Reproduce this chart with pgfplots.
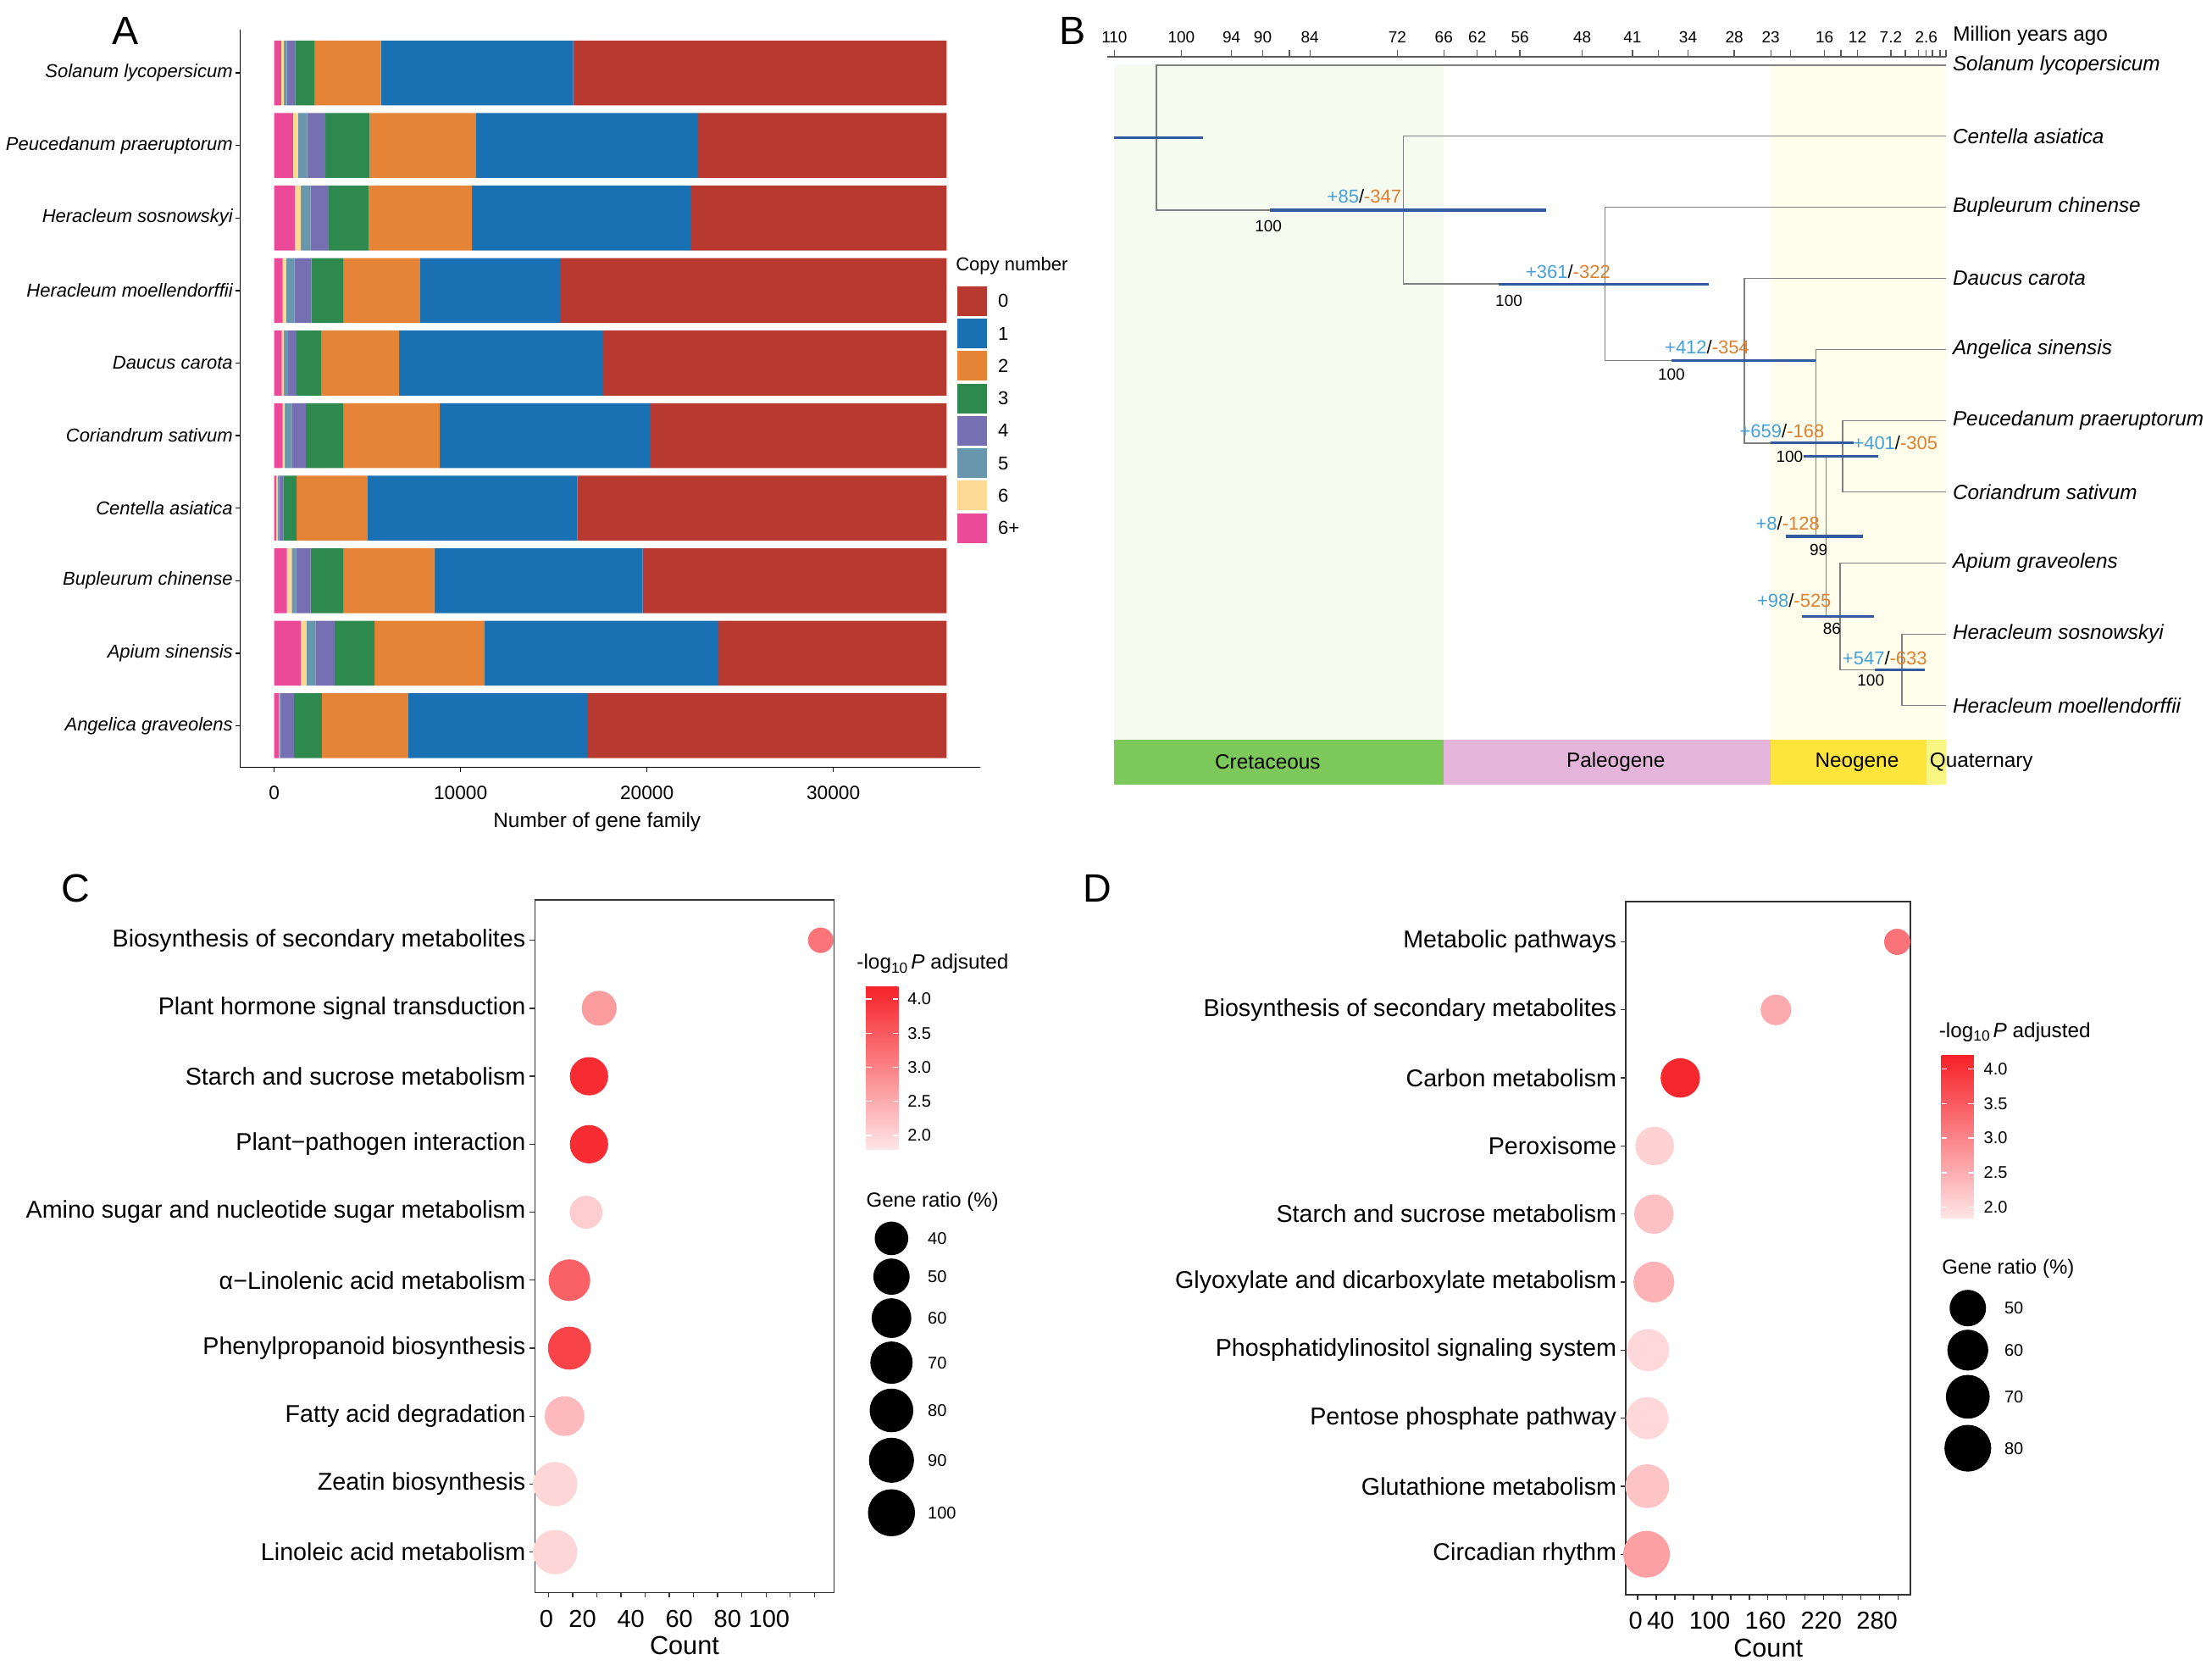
\documentclass[border=0pt]{standalone}
\usepackage{fontspec}
\setmainfont{Liberation Sans}
\usepackage{pgfplots}
\pgfplotsset{compat=1.18}
\newcommand{\fs}[1]{\fontsize{#1}{#1}\selectfont}
\definecolor{cz}{RGB}{183,57,48}
\definecolor{co}{RGB}{25,113,180}
\definecolor{ct}{RGB}{229,131,55}
\definecolor{cth}{RGB}{46,137,79}
\definecolor{cf}{RGB}{118,112,178}
\definecolor{cfi}{RGB}{104,150,172}
\definecolor{cs}{RGB}{252,218,150}
\definecolor{csp}{RGB}{235,74,152}
\definecolor{hpd}{RGB}{50,90,160}
\definecolor{gain}{RGB}{70,160,215}
\definecolor{loss}{RGB}{222,128,48}
\definecolor{treeg}{RGB}{128,128,128}
\definecolor{cret}{RGB}{125,200,90}
\definecolor{paleo}{RGB}{228,180,218}
\definecolor{neo}{RGB}{255,228,60}
\definecolor{quat}{RGB}{248,246,130}
\definecolor{bggreen}{RGB}{246,251,240}
\definecolor{bgyellow}{RGB}{255,254,236}
\definecolor{cmlow}{RGB}{255,229,231}
\definecolor{cmhigh}{RGB}{246,34,40}
\pgfplotsset{colormap={reds}{rgb255(0cm)=(255,229,231); rgb255(1cm)=(246,34,40)}}
\begin{document}
\begin{tikzpicture}
\path[use as bounding box] (0,0) rectangle (783.3pt,-591.3pt);
% ---------------- Panel A ----------------
\begin{axis}[
  at={(85.05pt,-271.68pt)}, anchor=south west, scale only axis,
  width=261.9pt, height=261.15pt,
  xmin=-1823, xmax=37859, ymin=0.426, ymax=10.596,
  xbar stacked, bar width=0.894,
  axis lines=left, axis line style={-, black, line width=0.5pt},
  tick align=outside, major tick length=1.6pt, tick style={black, line width=0.4pt},
  scaled x ticks=false,
  xtick={0,10000,20000,30000}, xticklabels={0,10000,20000,30000},
  xticklabel style={font=\fs{6.8}, yshift=-1.6pt},
  ytick={1,...,10},
  yticklabels={Angelica graveolens, Apium sinensis, Bupleurum chinense, Centella asiatica, Coriandrum sativum, Daucus carota, Heracleum moellendorffii, Heracleum sosnowskyi, Peucedanum praeruptorum, Solanum lycopersicum},
  yticklabel style={font=\fs{6.6}\itshape, xshift=2.5pt},
  xlabel={Number of gene family},
  xlabel style={font=\fs{7.3}, at={(rel axis cs:0.4826,0)}, anchor=center, yshift=-19.4pt},
]
\addplot[fill=csp, draw=none] coordinates {(377,10) (1017,9) (1130,8) (452,7) (414,6) (452,5) (113,4) (678,3) (1431,2) (264,1)};
\addplot[fill=cs, draw=none] coordinates {(150,10) (263,9) (301,8) (188,7) (113,6) (113,5) (75,4) (264,3) (301,2) (37,1)};
\addplot[fill=cfi, draw=none] coordinates {(151,10) (490,9) (527,8) (452,7) (226,6) (377,5) (76,4) (225,3) (490,2) (76,1)};
\addplot[fill=cf, draw=none] coordinates {(452,10) (979,9) (979,8) (904,7) (452,6) (753,5) (226,4) (791,3) (1017,2) (677,1)};
\addplot[fill=cth, draw=none] coordinates {(1054,10) (2373,9) (2147,8) (1732,7) (1318,6) (2033,5) (715,4) (1770,3) (2146,2) (1507,1)};
\addplot[fill=ct, draw=none] coordinates {(3540,10) (5686,9) (5536,8) (4105,7) (4180,6) (5160,5) (3804,4) (4859,3) (5913,2) (4632,1)};
\addplot[fill=co, draw=none] coordinates {(10319,10) (11939,9) (11712,8) (7495,7) (10959,6) (11260,5) (11260,4) (11185,3) (12541,2) (9641,1)};
\addplot[fill=cz, draw=none] coordinates {(20037,10) (13333,9) (13748,8) (20752,7) (18418,6) (15932,5) (19811,4) (16308,3) (12241,2) (19246,1)};
\end{axis}
% legend A
\node[anchor=west, font=\fs{6.6}, inner sep=0pt] at (338.3pt,-94.1pt) {Copy number};
\foreach \c/\l/\y in {cz/0/-106.56, co/1/-118.04, ct/2/-129.52, cth/3/-141.0, cf/4/-152.49, cfi/5/-163.97, cs/6/-175.45, csp/6+/-186.93}{
  \fill[\c] (339pt,\y pt-5.25pt) rectangle (349.5pt,\y pt+5.25pt);
  \node[anchor=west, font=\fs{6.6}, inner sep=0pt] at (353.2pt,\y pt) {\l};
}
\node[font=\fs{14}] at (44.28pt,-10.92pt) {A};
% ---------------- Panel B ----------------
\begin{axis}[
  at={(392.19pt,-20.01pt)}, anchor=north west, scale only axis,
  width=296.9pt, height=257.8pt,
  xmin=-110.2, xmax=0, ymin=-10.115, ymax=0.12,
  axis x line=top, axis y line=none,
  x axis line style={-, draw=black!65, line width=0.5pt},
  tick align=outside, major tick length=2.2pt, xtick style={draw=black!65, line width=0.4pt},
  xtick={-109.3,-100.5,-93.9,-89.8,-86.3,-83.6,-72.1,-66,-61.6,-59.2,-56,-47.8,-41.2,-37.8,-33.9,-27.82,-23.03,-20.44,-15.97,-13.82,-11.63,-7.246,-5.333,-3.6,-2.58,-1.8,-0.774,0},
  xticklabels={110,100,94,90,,84,72,66,62,,56,48,41,,34,28,23,,16,,12,7.2,,,2.6,,,},
  xticklabel style={font=\fs{5.7}, yshift=-1pt},
  clip=false]
\addplot[fill=bggreen, draw=none] coordinates {(-109.3,-9.48) (-66,-9.48) (-66,0) (-109.3,0)} -- cycle;
\addplot[fill=bgyellow, draw=none] coordinates {(-23.03,-9.48) (0,-9.48) (0,0) (-23.03,0)} -- cycle;
\addplot[fill=cret, draw=none] coordinates {(-109.3,-10.115) (-66,-10.115) (-66,-9.48) (-109.3,-9.48)} -- cycle;
\addplot[fill=paleo, draw=none] coordinates {(-66,-10.115) (-23.03,-10.115) (-23.03,-9.48) (-66,-9.48)} -- cycle;
\addplot[fill=neo, draw=none] coordinates {(-23.03,-10.115) (-2.58,-10.115) (-2.58,-9.48) (-23.03,-9.48)} -- cycle;
\addplot[fill=quat, draw=none] coordinates {(-2.58,-10.115) (0,-10.115) (0,-9.48) (-2.58,-9.48)} -- cycle;
% tree
\addplot[treeg, line width=0.45pt] coordinates {(0,0) (-103.8,0) (-103.8,-2.039) (-71.3,-2.039)};
\addplot[treeg, line width=0.45pt] coordinates {(0,-1) (-71.3,-1) (-71.3,-3.078) (-44.8,-3.078)};
\addplot[treeg, line width=0.45pt] coordinates {(0,-2) (-44.8,-2) (-44.8,-4.156) (-26.5,-4.156)};
\addplot[treeg, line width=0.45pt] coordinates {(0,-3) (-26.5,-3) (-26.5,-5.3125) (-17.1,-5.3125)};
\addplot[treeg, line width=0.45pt] coordinates {(0,-4) (-17.1,-4) (-17.1,-6.625) (-15.74,-6.625)};
\addplot[treeg, line width=0.45pt] coordinates {(-13.6,-5.5) (-15.74,-5.5) (-15.74,-7.75) (-13.9,-7.75)};
\addplot[treeg, line width=0.45pt] coordinates {(0,-5) (-13.6,-5) (-13.6,-6) (0,-6)};
\addplot[treeg, line width=0.45pt] coordinates {(0,-7) (-13.9,-7) (-13.9,-8.5) (-5.8,-8.5)};
\addplot[treeg, line width=0.45pt] coordinates {(0,-8) (-5.8,-8) (-5.8,-9) (0,-9)};
% HPD bars
\addplot[hpd, line width=1pt] coordinates {(-109.4,-1.02) (-97.6,-1.02)};
\addplot[hpd, line width=1pt] coordinates {(-88.9,-2.039) (-52.6,-2.039)};
\addplot[hpd, line width=1pt] coordinates {(-58.8,-3.078) (-31.15,-3.078)};
\addplot[hpd, line width=1pt] coordinates {(-36.1,-4.156) (-17.2,-4.156)};
\addplot[hpd, line width=1pt] coordinates {(-23.06,-5.3125) (-12.1,-5.3125)};
\addplot[hpd, line width=1pt] coordinates {(-18.7,-5.5) (-8.9,-5.5)};
\addplot[hpd, line width=1pt] coordinates {(-21.0,-6.625) (-10.9,-6.625)};
\addplot[hpd, line width=1pt] coordinates {(-18.9,-7.75) (-9.43,-7.75)};
\addplot[hpd, line width=1pt] coordinates {(-9.3,-8.5) (-2.8,-8.5)};
% gain/loss labels
\node[font=\fs{6.6}, inner sep=0pt] at (axis cs:-76.45,-1.846) {\textcolor{gain}{+85}/\textcolor{loss}{-347}};
\node[font=\fs{6.6}, inner sep=0pt] at (axis cs:-49.67,-2.909) {\textcolor{gain}{+361}/\textcolor{loss}{-322}};
\node[font=\fs{6.6}, inner sep=0pt] at (axis cs:-31.4,-3.964) {\textcolor{gain}{+412}/\textcolor{loss}{-354}};
\node[font=\fs{6.6}, inner sep=0pt] at (axis cs:-21.55,-5.142) {\textcolor{gain}{+659}/\textcolor{loss}{-168}};
\node[font=\fs{6.6}, inner sep=0pt] at (axis cs:-6.65,-5.313) {\textcolor{gain}{+401}/\textcolor{loss}{-305}};
\node[font=\fs{6.6}, inner sep=0pt] at (axis cs:-20.8,-6.44) {\textcolor{gain}{+8}/\textcolor{loss}{-128}};
\node[font=\fs{6.6}, inner sep=0pt] at (axis cs:-19.96,-7.528) {\textcolor{gain}{+98}/\textcolor{loss}{-525}};
\node[font=\fs{6.6}, inner sep=0pt] at (axis cs:-8.04,-8.338) {\textcolor{gain}{+547}/\textcolor{loss}{-633}};
% bootstrap
\node[font=\fs{5.7}, inner sep=0pt] at (axis cs:-89.06,-2.264) {100};
\node[font=\fs{5.7}, inner sep=0pt] at (axis cs:-57.45,-3.31) {100};
\node[font=\fs{5.7}, inner sep=0pt] at (axis cs:-36.09,-4.352) {100};
\node[font=\fs{5.7}, inner sep=0pt] at (axis cs:-20.55,-5.507) {100};
\node[font=\fs{5.7}, inner sep=0pt] at (axis cs:-16.74,-6.809) {99};
\node[font=\fs{5.7}, inner sep=0pt] at (axis cs:-14.98,-7.921) {86};
\node[font=\fs{5.7}, inner sep=0pt] at (axis cs:-9.88,-8.655) {100};
% species
\node[anchor=west, font=\fs{7.3}\itshape, inner sep=0pt, xshift=2.2pt] at (axis cs:0,0) {Solanum lycopersicum};
\node[anchor=west, font=\fs{7.3}\itshape, inner sep=0pt, xshift=2.2pt] at (axis cs:0,-1) {Centella asiatica};
\node[anchor=west, font=\fs{7.3}\itshape, inner sep=0pt, xshift=2.2pt] at (axis cs:0,-2) {Bupleurum chinense};
\node[anchor=west, font=\fs{7.3}\itshape, inner sep=0pt, xshift=2.2pt] at (axis cs:0,-3) {Daucus carota};
\node[anchor=west, font=\fs{7.3}\itshape, inner sep=0pt, xshift=2.2pt] at (axis cs:0,-4) {Angelica sinensis};
\node[anchor=west, font=\fs{7.3}\itshape, inner sep=0pt, xshift=2.2pt] at (axis cs:0,-5) {Peucedanum praeruptorum};
\node[anchor=west, font=\fs{7.3}\itshape, inner sep=0pt, xshift=2.2pt] at (axis cs:0,-6) {Coriandrum sativum};
\node[anchor=west, font=\fs{7.3}\itshape, inner sep=0pt, xshift=2.2pt] at (axis cs:0,-7) {Apium graveolens};
\node[anchor=west, font=\fs{7.3}\itshape, inner sep=0pt, xshift=2.2pt] at (axis cs:0,-8) {Heracleum sosnowskyi};
\node[anchor=west, font=\fs{7.3}\itshape, inner sep=0pt, xshift=2.2pt] at (axis cs:0,-9) {Heracleum moellendorffii};
% periods
\node[font=\fs{7.3}, inner sep=0pt] at (axis cs:-89.15,-9.8) {Cretaceous};
\node[font=\fs{7.3}, inner sep=0pt] at (axis cs:-43.4,-9.8) {Paleogene};
\node[font=\fs{7.3}, inner sep=0pt] at (axis cs:-11.7,-9.8) {Neogene};
\node[anchor=west, font=\fs{7.3}, inner sep=0pt] at (axis cs:-2.2,-9.8) {Quaternary};
\node[anchor=west, font=\fs{7.3}, inner sep=0pt, xshift=2.3pt, yshift=7.2pt] at (axis cs:0,0.12) {Million years ago};
\end{axis}
\node[font=\fs{14}] at (379.95pt,-10.92pt) {B};
% ---------------- Panel C ----------------
\begin{axis}[
  at={(189.42pt,-563.82pt)}, anchor=south west, scale only axis,
  width=105.93pt, height=245.25pt,
  xmin=-5.57, xmax=118.15, ymin=0.405, ymax=10.595,
  axis line style={draw=black!80, line width=0.5pt},
  tick pos=left, tick align=outside, major tick length=1.8pt, tick style={draw=black!80, line width=0.4pt},
  xtick={0,10,...,110}, xticklabels={\makebox[0pt]{0},,20,,40,,60,,80,,100,},
  xticklabel style={anchor=north east, inner xsep=0pt, font=\fs{8.7}, yshift=-0.8pt},
  ytick={1,...,10},
  yticklabels={Linoleic acid metabolism, Zeatin biosynthesis, Fatty acid degradation, Phenylpropanoid biosynthesis, α−Linolenic acid metabolism, Amino sugar and nucleotide sugar metabolism, Plant−pathogen interaction, Starch and sucrose metabolism, Plant hormone signal transduction, Biosynthesis of secondary metabolites},
  yticklabel style={font=\fs{8.6}, xshift=2pt},
  xlabel={Count},
  xlabel style={font=\fs{9.2}, at={(rel axis cs:0.5,0)}, anchor=center, yshift=-18.9pt},
  colormap name=reds, point meta min=1.8, point meta max=4.185,
  clip=false]
\addplot[scatter, only marks, mark=*, point meta=explicit,
  scatter/use mapped color={draw=mapped color, fill=mapped color},
  visualization depends on={\thisrow{r} \as \rad},
  scatter/@pre marker code/.append style={/tikz/mark size=\rad}]
  table[x=x, y=y, meta=p] {
  x y p r
  112.6 10 3.16 4.3
  21.0 9 2.69 5.98
  16.8 8 4.05 6.58
  16.8 7 4.03 6.58
  15.6 6 2.09 5.62
  8.7 5 3.40 7.17
  8.7 4 3.76 7.41
  6.7 3 2.33 6.82
  2.8 2 1.98 7.65
  2.8 1 1.98 7.65
  };
\addplot[only marks, mark=*, black, mark size=5.74] coordinates {(141.9,5.615)};
\addplot[only marks, mark=*, black, mark size=6.22] coordinates {(141.9,5.052)};
\addplot[only marks, mark=*, black, mark size=6.82] coordinates {(141.9,4.442)};
\addplot[only marks, mark=*, black, mark size=7.29] coordinates {(141.9,3.787)};
\addplot[only marks, mark=*, black, mark size=7.53] coordinates {(141.9,3.084)};
\addplot[only marks, mark=*, black, mark size=7.77] coordinates {(141.9,2.351)};
\addplot[only marks, mark=*, black, mark size=8.13] coordinates {(141.9,1.579)};
\end{axis}
\node[font=\fs{14}] at (26.79pt,-314.49pt) {C};
% legend C
\node[anchor=west, font=\fs{7.3}, inner sep=0pt] at (303.24pt,-341.25pt) {-log\raisebox{-0.35ex}{\fs{5.2}10}\,\textit{P} adjsuted};
\shade[top color=cmhigh, bottom color=cmlow] (306.6pt,-349.23pt) rectangle (318.09pt,-406.83pt);
\foreach \y/\l in {-353.7/4.0, -365.78/3.5, -377.85/3.0, -389.93/2.5, -402.0/2.0}{
  \draw[white, line width=0.4pt] (306.6pt,\y pt) -- (308.6pt,\y pt);
  \draw[white, line width=0.4pt] (316.09pt,\y pt) -- (318.09pt,\y pt);
  \node[anchor=west, font=\fs{6}, inner sep=0pt] at (321.18pt,\y pt) {\l};
}
\node[anchor=west, font=\fs{7.2}, inner sep=0pt] at (306.6pt,-425.4pt) {Gene ratio (\%)};
\foreach \y/\l in {-438.42/40, -451.98/50, -466.65/60, -482.43/70, -499.35/80, -516.99/90, -535.56/100}{
  \node[anchor=west, font=\fs{6}, inner sep=0pt] at (328.35pt,\y pt) {\l};
}
% ---------------- Panel D ----------------
\begin{axis}[
  at={(575.76pt,-564.54pt)}, anchor=south west, scale only axis,
  width=100.77pt, height=245.4pt,
  xmin=-12.66, xmax=293.3, ymin=0.407, ymax=10.594,
  axis line style={draw=black!80, line width=0.5pt},
  tick pos=left, tick align=outside, major tick length=1.8pt, tick style={draw=black!80, line width=0.4pt},
  xtick={0,20,...,280}, xticklabels={\makebox[0pt]{0},,40,,,100,,,160,,,220,,,280},
  xticklabel style={anchor=north east, inner xsep=0pt, font=\fs{8.7}, yshift=-0.8pt},
  ytick={1,...,10},
  yticklabels={Circadian rhythm, Glutathione metabolism, Pentose phosphate pathway, Phosphatidylinositol signaling system, Glyoxylate and dicarboxylate metabolism, Starch and sucrose metabolism, Peroxisome, Carbon metabolism, Biosynthesis of secondary metabolites, Metabolic pathways},
  yticklabel style={font=\fs{8.6}, xshift=2pt},
  xlabel={Count},
  xlabel style={font=\fs{9.2}, at={(rel axis cs:0.5,0)}, anchor=center, yshift=-18.9pt},
  colormap name=reds, point meta min=1.84, point meta max=4.19,
  clip=false]
\addplot[scatter, only marks, mark=*, point meta=explicit,
  scatter/use mapped color={draw=mapped color, fill=mapped color},
  visualization depends on={\thisrow{r} \as \rad},
  scatter/@pre marker code/.append style={/tikz/mark size=\rad}]
  table[x=x, y=y, meta=p] {
  x y p r
  279 10 3.2 4.43
  148.6 9 2.55 5.21
  45.8 8 4.1 6.77
  18.2 7 2.08 6.64
  17.4 6 2.27 6.77
  17.4 5 2.45 7.03
  11.1 4 2.0 7.29
  10.3 3 2.0 7.29
  10.3 2 2.25 7.55
  9.5 1 2.67 8.07
  };
\addplot[only marks, mark=*, black, mark size=6.25] coordinates {(354.9,4.618)};
\addplot[only marks, mark=*, black, mark size=7.03] coordinates {(354.9,4.0)};
\addplot[only marks, mark=*, black, mark size=7.55] coordinates {(354.9,3.314)};
\addplot[only marks, mark=*, black, mark size=8.07] coordinates {(354.9,2.558)};
\end{axis}
\node[font=\fs{14}] at (388.53pt,-314.49pt) {D};
% legend D
\node[anchor=west, font=\fs{7.3}, inner sep=0pt] at (686.43pt,-365.4pt) {-log\raisebox{-0.35ex}{\fs{5.2}10}\,\textit{P} adjusted};
\shade[top color=cmhigh, bottom color=cmlow] (687.48pt,-373.77pt) rectangle (698.94pt,-431.34pt);
\foreach \y/\l in {-378.39/4.0, -390.65/3.5, -402.92/3.0, -415.17/2.5, -427.44/2.0}{
  \draw[white, line width=0.4pt] (687.48pt,\y pt) -- (689.48pt,\y pt);
  \draw[white, line width=0.4pt] (696.94pt,\y pt) -- (698.94pt,\y pt);
  \node[anchor=west, font=\fs{6}, inner sep=0pt] at (702.3pt,\y pt) {\l};
}
\node[anchor=west, font=\fs{7.2}, inner sep=0pt] at (687.48pt,-449.19pt) {Gene ratio (\%)};
\foreach \y/\l in {-463.11/50, -477.99/60, -494.52/70, -512.73/80}{
  \node[anchor=west, font=\fs{6}, inner sep=0pt] at (709.62pt,\y pt) {\l};
}
\end{tikzpicture}
\end{document}
